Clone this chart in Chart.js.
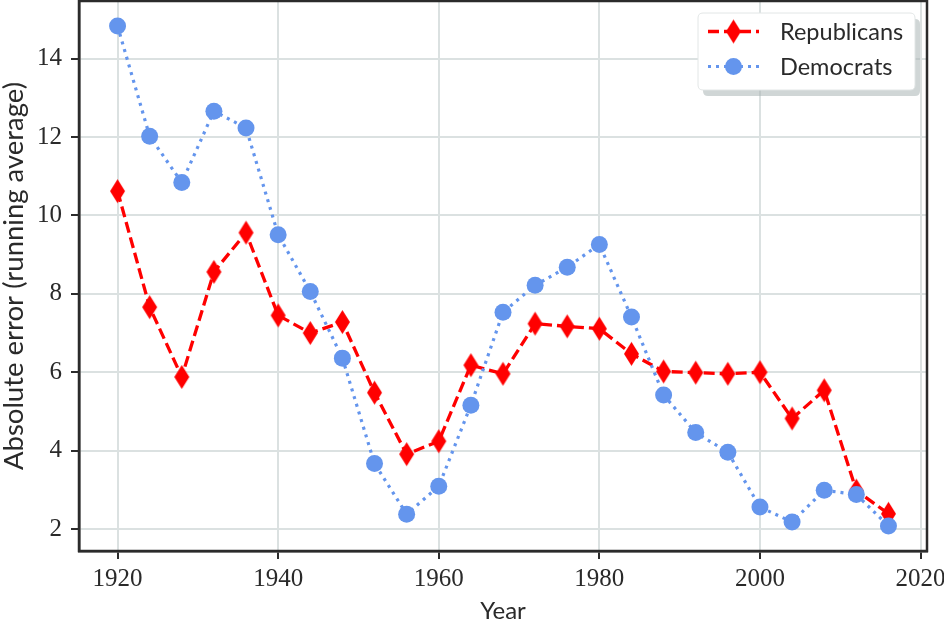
<!DOCTYPE html>
<html><head><meta charset="utf-8">
<script src="https://cdn.jsdelivr.net/npm/chart.js@4.4.1/dist/chart.umd.min.js"></script>
<style>html,body{margin:0;padding:0;background:#fff;}canvas{display:block;}</style>
</head><body>
<canvas id="c" width="944" height="620"></canvas>
<script>
const years = [1920,1924,1928,1932,1936,1940,1944,1948,1952,1956,1960,1964,1968,1972,1976,1980,1984,1988,1992,1996,2000,2004,2008,2012,2016];
const republicans = [10.62,7.66,5.88,8.56,9.56,7.45,7.00,7.28,5.48,3.91,4.24,6.18,5.96,7.24,7.17,7.11,6.47,6.02,5.99,5.96,6.00,4.82,5.54,2.98,2.39];
const democrats = [14.83,12.02,10.84,12.66,12.23,9.51,8.06,6.36,3.67,2.38,3.09,5.16,7.53,8.22,8.68,9.26,7.41,5.42,4.46,3.96,2.56,2.18,2.99,2.88,2.08];
const xTicks = [1920,1940,1960,1980,2000,2020];
const yTicks = [2,4,6,8,10,12,14];
const seriesNames = ['Republicans','Democrats'];

const RED = '#ff0000', BLUE = '#6495ed';
const FRAME = '#2b2b2b', GRID = '#dbe1e1', TXT = '#2a2a2a';

function makeDiamond(color){
  const c = document.createElement('canvas');
  c.width = 17; c.height = 26;
  const g = c.getContext('2d');
  g.fillStyle = color;
  g.beginPath();
  g.moveTo(8.5,1); g.lineTo(16,13); g.lineTo(8.5,25); g.lineTo(1,13); g.closePath();
  g.fill();
  return c;
}
const diamond = makeDiamond(RED);

const legendPlugin = {
  id: 'mplLegend',
  afterDraw(chart){
    const ctx = chart.ctx;
    const x0 = 698, y0 = 13, w = 217, h = 77, r = 5;
    function rr(x,y,w,h,r){
      ctx.beginPath();
      ctx.moveTo(x+r,y); ctx.lineTo(x+w-r,y); ctx.quadraticCurveTo(x+w,y,x+w,y+r);
      ctx.lineTo(x+w,y+h-r); ctx.quadraticCurveTo(x+w,y+h,x+w-r,y+h);
      ctx.lineTo(x+r,y+h); ctx.quadraticCurveTo(x,y+h,x,y+h-r);
      ctx.lineTo(x,y+r); ctx.quadraticCurveTo(x,y,x+r,y); ctx.closePath();
    }
    ctx.save();
    rr(x0+5,y0+6,w,h,r); ctx.fillStyle='rgba(170,180,180,0.55)'; ctx.fill();
    rr(x0,y0,w,h,r); ctx.fillStyle='#ffffff'; ctx.fill();
    ctx.lineWidth=1; ctx.strokeStyle='#e2e6e6'; ctx.stroke();
    const rows = [31.5, 66.5];
    chart.data.datasets.forEach((ds,i)=>{
      const y = rows[i];
      ctx.save();
      ctx.strokeStyle = ds.borderColor; ctx.lineWidth = ds.borderWidth;
      ctx.setLineDash(ds.borderDash); ctx.lineCap='butt';
      ctx.beginPath(); ctx.moveTo(708,y); ctx.lineTo(759,y); ctx.stroke();
      ctx.restore();
      if (ds.pointStyle === 'circle'){
        ctx.beginPath(); ctx.arc(733.5,y,ds.pointRadius,0,Math.PI*2);
        ctx.fillStyle = ds.pointBackgroundColor; ctx.fill();
      } else {
        ctx.drawImage(ds.pointStyle, 733.5-ds.pointStyle.width/2, y-ds.pointStyle.height/2);
      }
      ctx.fillStyle = TXT; ctx.font = '23.5px Lato'; ctx.textBaseline='middle'; ctx.textAlign='left';
      ctx.fillText(ds.label, 780, y+1);
    });
    ctx.restore();
  }
};

const framePlugin = {
  id: 'frame',
  afterDatasetsDraw(chart){
    const a = chart.chartArea, ctx = chart.ctx;
    ctx.save(); ctx.strokeStyle = FRAME; ctx.lineWidth = 2.5;
    ctx.strokeRect(a.left, a.top, a.right-a.left, a.bottom-a.top);
    ctx.restore();
  }
};

new Chart(document.getElementById('c'), {
  type: 'line',
  data: {
    datasets: [
      { label: seriesNames[0], data: years.map((x,i)=>({x, y: republicans[i]})), order: 1,
        borderColor: RED, backgroundColor: RED, borderWidth: 3.3, borderDash: [11,5],
        pointStyle: diamond, pointRadius: 8, pointBackgroundColor: RED, pointBorderWidth: 0, tension: 0 },
      { label: seriesNames[1], data: years.map((x,i)=>({x, y: democrats[i]})), order: 0,
        borderColor: BLUE, backgroundColor: BLUE, borderWidth: 3.2, borderDash: [3,5],
        pointStyle: 'circle', pointRadius: 8.5, pointBackgroundColor: BLUE, pointBorderWidth: 0, tension: 0 }
    ]
  },
  options: {
    responsive: false, animation: false, devicePixelRatio: 1,
    layout: { autoPadding: false, padding: { top: 1, right: 17, left: 0, bottom: 0 } },
    plugins: { legend: { display: false }, tooltip: { enabled: false } },
    scales: {
      x: {
        type: 'linear', min: 1915.2, max: 2020.8,
        afterBuildTicks(s){ s.ticks = xTicks.map(v=>({value:v})); },
        afterFit(s){ s.height = 69; s.paddingLeft = 0; s.paddingRight = 0; },
        grid: { color: GRID, lineWidth: 2, drawTicks: true, tickLength: 8, tickColor: FRAME, tickWidth: 2 },
        border: { display: true, color: FRAME, width: 2.5 },
        ticks: { color: TXT, font: { family: 'Liberation Serif', size: 25 }, padding: 5, maxRotation: 0, callback: v => String(v) },
        title: { display: true, text: 'Year', color: TXT, font: { family: 'Lato', size: 24, lineHeight: 0.7 }, padding: 0 }
      },
      y: {
        type: 'linear', min: 1.44, max: 15.47,
        afterBuildTicks(s){ s.ticks = yTicks.map(v=>({value:v})); },
        afterFit(s){ s.width = 79; s.paddingTop = 0; s.paddingBottom = 0; },
        grid: { color: GRID, lineWidth: 2, drawTicks: true, tickLength: 8, tickColor: FRAME, tickWidth: 2 },
        border: { display: true, color: FRAME, width: 2.5 },
        ticks: { color: TXT, font: { family: 'Liberation Serif', size: 25 }, padding: 9, callback: v => String(v) },
        title: { display: true, text: 'Absolute error (running average)', color: TXT, font: { family: 'Lato', size: 27.5, lineHeight: 1.0 }, padding: 0 }
      }
    }
  },
  plugins: [framePlugin, legendPlugin]
});
</script>
</body></html>
